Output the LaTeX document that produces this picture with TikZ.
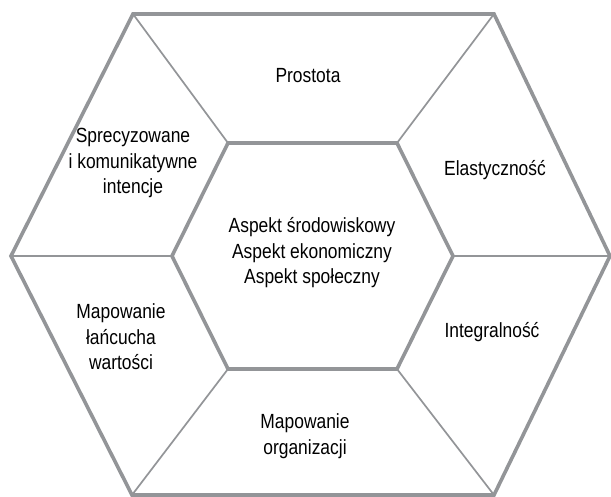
\documentclass[tikz,border=0pt]{standalone}
\usepackage{fontspec}
\setmainfont{Liberation Sans}[FakeStretch=0.85]
\definecolor{hexgray}{RGB}{147,149,152}
\begin{document}
\begin{tikzpicture}[x=1bp,y=-1bp,
  frame/.style={draw=hexgray,line width=3.6bp},
  spoke/.style={draw=hexgray,line width=1.7bp},
  label/.style={align=center,inner sep=0pt,
    font=\fontsize{20.5bp}{25.5bp}\selectfont}]
\useasboundingbox (0,0) rectangle (611,497);
% outer hexagon corners
\coordinate (o1) at (133,14);
\coordinate (o2) at (494,14);
\coordinate (o3) at (610,256);
\coordinate (o4) at (494,495);
\coordinate (o5) at (132,495);
\coordinate (o6) at (11,256);
% inner hexagon corners
\coordinate (i1) at (228,143);
\coordinate (i2) at (397,143);
\coordinate (i3) at (453,256);
\coordinate (i4) at (397,369);
\coordinate (i5) at (228,369);
\coordinate (i6) at (172,256);
% spokes joining the two hexagons
\foreach \k in {1,...,6} \draw[spoke] (o\k) -- (i\k);
% hexagon outlines
\draw[frame] (o1) -- (o2) -- (o3) -- (o4) -- (o5) -- (o6) -- cycle;
\draw[frame] (i1) -- (i2) -- (i3) -- (i4) -- (i5) -- (i6) -- cycle;
% segment labels
\node[label] (top)    at (308,76)  {Prostota};
\node[label] (right1) at (495,170) {Elastyczność};
\node[label] (right2) at (492,332) {Integralność};
\node[label] (bottom) at (305,436) {Mapowanie\\organizacji};
\node[label] (left2)  at (121,337) {Mapowanie\\łańcucha\\wartości};
\node[label] (left1)  at (133,163) {Sprecyzowane\\i komunikatywne\\intencje};
\node[label] (center) at (312,253) {Aspekt środowiskowy\\Aspekt ekonomiczny\\Aspekt społeczny};
\end{tikzpicture}
\end{document}
